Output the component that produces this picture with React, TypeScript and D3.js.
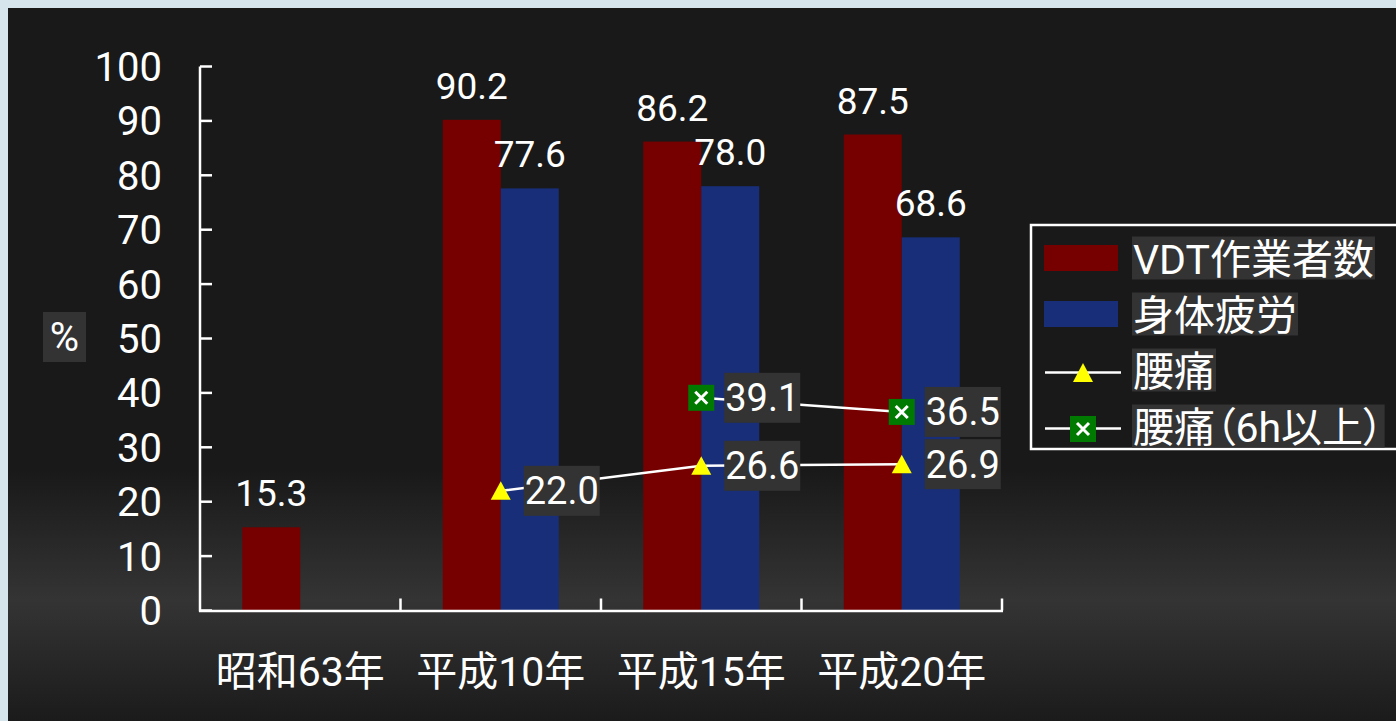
import React, { useEffect, useRef } from 'react';
import * as d3 from 'd3';

const categories = ['昭和63年', '平成10年', '平成15年', '平成20年'];
const vdtWorkers: (number | null)[] = [15.3, 90.2, 86.2, 87.5];
const physicalFatigue: (number | null)[] = [null, 77.6, 78.0, 68.6];
const backPain: (number | null)[] = [null, 22.0, 26.6, 26.9];
const backPain6h: (number | null)[] = [null, null, 39.1, 36.5];
const yTicks = [0, 10, 20, 30, 40, 50, 60, 70, 80, 90, 100];
const legendLabels = ['VDT作業者数', '身体疲労', '腰痛', '腰痛（6h以上）'];
const yAxisTitle = '%';

const W = 1396;
const H = 721;
const FONT = "Roboto, 'Noto Sans CJK JP', sans-serif";
const RED = '#760000';
const BLUE = '#182e78';
const LABEL_BG = '#333333';

export default function App() {
  const ref = useRef<SVGSVGElement>(null);

  useEffect(() => {
    const svg = d3.select(ref.current);
    svg.selectAll('*').remove();

    // background
    const defs = svg.append('defs');
    const grad = defs.append('linearGradient').attr('id', 'bg').attr('x1', 0).attr('y1', 0).attr('x2', 0).attr('y2', 1);
    grad.append('stop').attr('offset', 0).attr('stop-color', '#191919');
    grad.append('stop').attr('offset', (470 - 8) / (H - 8)).attr('stop-color', '#191919');
    grad.append('stop').attr('offset', (600 - 8) / (H - 8)).attr('stop-color', '#343434');
    grad.append('stop').attr('offset', 1).attr('stop-color', '#1b1b1b');

    svg.append('rect').attr('width', W).attr('height', H).attr('fill', '#d6e5eb');
    svg.append('rect').attr('x', 8).attr('y', 8).attr('width', W - 8).attr('height', H - 8).attr('fill', 'url(#bg)');

    const x = d3.scaleBand<string>().domain(categories).range([200, 1002]).padding(0);
    const y = d3.scaleLinear().domain([0, 100]).range([610.5, 66.5]);
    const bw = 58;
    const cx = (i: number) => (x(categories[i]) as number) + x.bandwidth() / 2;
    const fmt = d3.format('.1f');

    const g = svg.append('g').attr('font-family', FONT);

    // bars
    const series = [
      { vals: vdtWorkers, color: RED, off: -bw },
      { vals: physicalFatigue, color: BLUE, off: 0 },
    ];
    series.forEach((s) => {
      s.vals.forEach((v, i) => {
        if (v == null) return;
        g.append('rect')
          .attr('x', cx(i) + s.off)
          .attr('y', y(v))
          .attr('width', bw)
          .attr('height', y(0) - y(v))
          .attr('fill', s.color);
      });
    });

    // axes
    g.append('line').attr('x1', 200).attr('x2', 200).attr('y1', y(100)).attr('y2', y(0) + 1)
      .attr('stroke', '#fff').attr('stroke-width', 2.5);
    g.append('line').attr('x1', 199).attr('x2', 1003).attr('y1', y(0) + 0.5).attr('y2', y(0) + 0.5)
      .attr('stroke', '#fff').attr('stroke-width', 2.5);
    yTicks.forEach((t) => {
      g.append('line').attr('x1', 200).attr('x2', 212).attr('y1', y(t)).attr('y2', y(t))
        .attr('stroke', '#fff').attr('stroke-width', 2.5);
      g.append('text').attr('x', 162).attr('y', y(t) + 14.5).attr('text-anchor', 'end')
        .attr('font-size', 40).attr('fill', '#fff').text(String(t));
    });
    const bounds = categories.map((c) => (x(c) as number) + x.bandwidth());
    bounds.forEach((bx) => {
      g.append('line').attr('x1', bx).attr('x2', bx).attr('y1', y(0)).attr('y2', y(0) - 12)
        .attr('stroke', '#fff').attr('stroke-width', 2.5);
    });
    categories.forEach((c, i) => {
      g.append('text').attr('x', cx(i)).attr('y', 686).attr('text-anchor', 'middle')
        .attr('font-size', 41).attr('fill', '#fff').text(c);
    });

    // y axis title
    g.append('rect').attr('x', 43).attr('y', 312).attr('width', 43).attr('height', 50).attr('fill', LABEL_BG);
    g.append('text').attr('x', 64.5).attr('y', 337 + 13.5).attr('text-anchor', 'middle')
      .attr('font-size', 40).attr('fill', '#fff').text(yAxisTitle);

    // bar labels
    series.forEach((s) => {
      s.vals.forEach((v, i) => {
        if (v == null) return;
        g.append('text').attr('x', cx(i) + s.off + bw / 2).attr('y', y(v) - 21)
          .attr('text-anchor', 'middle').attr('font-size', 37).attr('fill', '#fff').text(fmt(v));
      });
    });

    // lines
    const lineSeries = [
      { vals: backPain, marker: 'tri' },
      { vals: backPain6h, marker: 'sq' },
    ];
    const lineGen = d3.line<number | null>()
      .defined((d) => d != null)
      .x((_, i) => cx(i))
      .y((d) => y(d as number));
    lineSeries.forEach((s) => {
      g.append('path').attr('d', lineGen(s.vals) as string).attr('fill', 'none')
        .attr('stroke', '#fff').attr('stroke-width', 2.5);
    });

    const drawTri = (px: number, py: number) => {
      g.append('path')
        .attr('d', `M${px},${py - 9.5}L${px + 10},${py + 9}L${px - 10},${py + 9}Z`)
        .attr('fill', '#ffff00');
    };
    const drawSq = (px: number, py: number) => {
      g.append('rect').attr('x', px - 13).attr('y', py - 13).attr('width', 26).attr('height', 26).attr('fill', '#007a00');
      g.append('path').attr('d', `M${px - 6},${py - 6}L${px + 6},${py + 6}M${px + 6},${py - 6}L${px - 6},${py + 6}`)
        .attr('stroke', '#fff').attr('stroke-width', 3);
    };

    lineSeries.forEach((s) => {
      s.vals.forEach((v, i) => {
        if (v == null) return;
        const px = cx(i);
        const py = y(v);
        if (s.marker === 'tri') drawTri(px, py); else drawSq(px, py);
        g.append('rect').attr('x', px + 23).attr('y', py - 25).attr('width', 76).attr('height', 50).attr('fill', LABEL_BG);
        g.append('text').attr('x', px + 61).attr('y', py + 13.5).attr('text-anchor', 'middle')
          .attr('font-size', 38).attr('fill', '#fff').text(fmt(v));
      });
    });

    // legend
    const lg = g.append('g');
    lg.append('rect').attr('x', 1031).attr('y', 225).attr('width', 400).attr('height', 224)
      .attr('fill', '#191919').attr('stroke', '#fff').attr('stroke-width', 2.5);
    const rowY = [258, 314, 370, 426];
    // swatches
    lg.append('rect').attr('x', 1044).attr('y', rowY[0] - 13).attr('width', 74).attr('height', 26).attr('fill', RED);
    lg.append('rect').attr('x', 1044).attr('y', rowY[1] - 13).attr('width', 74).attr('height', 26).attr('fill', BLUE);
    lg.append('line').attr('x1', 1045).attr('x2', 1121).attr('y1', 372.5).attr('y2', 372.5).attr('stroke', '#fff').attr('stroke-width', 2.5);
    lg.append('path').attr('d', `M1083,363L1093,382L1073,382Z`).attr('fill', '#ffff00');
    lg.append('line').attr('x1', 1045).attr('x2', 1121).attr('y1', 428.5).attr('y2', 428.5).attr('stroke', '#fff').attr('stroke-width', 2.5);
    lg.append('rect').attr('x', 1070).attr('y', 416).attr('width', 26).attr('height', 26).attr('fill', '#007a00');
    lg.append('path').attr('d', `M1077,423L1089,435M1089,423L1077,435`).attr('stroke', '#fff').attr('stroke-width', 3);

    legendLabels.forEach((lab, i) => {
      const bg = lg.append('rect').attr('fill', LABEL_BG);
      const t = lg.append('text').attr('x', 1133).attr('y', rowY[i] + 15.5)
        .attr('font-size', 41).attr('fill', '#fff')
        .style('font-feature-settings', '"palt"')
        .text(lab);
      const bb = (t.node() as SVGTextElement).getBBox();
      bg.attr('x', 1132).attr('y', rowY[i] - 21.5).attr('width', bb.width + 2).attr('height', 43);
    });
  }, []);

  return (
    <svg
      ref={ref}
      width={W}
      height={H}
      style={{ position: 'fixed', left: 0, top: 0, display: 'block' }}
    />
  );
}
